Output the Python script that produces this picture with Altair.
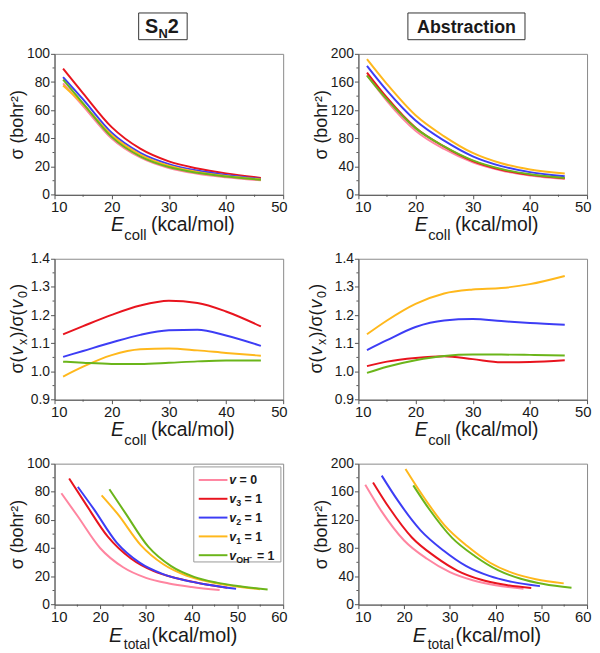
import altair as alt
import pandas as pd

# ---------------- data ----------------
SERIES = ["v = 0", "v3 = 1", "v2 = 1", "v1 = 1", "vOH = 1"]
COLORS = ["#FF85A0", "#E8141E", "#3D3DF5", "#FFB81C", "#6BB51A"]

E_COLL = [11.5, 15, 20, 25, 30, 35, 40, 46.1]          # kcal/mol
E_VIB = [0.0, 1.7, 3.6, 8.8, 10.5]                      # added to E_coll for E_total

SN2_V0 = [79, 63, 40, 26.5, 19, 15, 12.5, 10.3]
SN2_V3 = [89.5, 72, 48, 32.7, 23.7, 18.7, 15.2, 12.0]
SN2_V2 = [83.5, 67.7, 44, 29.8, 21.8, 17.2, 14.1, 11.2]
SN2_V1 = [77.5, 64.3, 42.4, 28.6, 20.6, 16.2, 13.3, 10.9]
SN2_VOH = [81.8, 64.9, 41.1, 27.3, 19.7, 15.6, 13.0, 10.7]

ABS_V0 = [170, 133, 91, 65, 46, 34.5, 27.5, 22.5]
ABS_V3 = [173.4, 137.7, 95.2, 68.4, 48, 35.6, 28.4, 23.4]
ABS_V2 = [183, 147.8, 105.4, 76.8, 54.6, 40.7, 32.2, 26.2]
ABS_V1 = [192.4, 157.1, 112.8, 83, 59.4, 44.7, 36, 30.1]
ABS_VOH = [169.2, 135.3, 94.6, 68.6, 48.8, 36.6, 29.1, 23.8]

SN2_R_V3 = [1.132, 1.161, 1.201, 1.234, 1.251, 1.243, 1.213, 1.16]
SN2_R_V2 = [1.052, 1.073, 1.103, 1.13, 1.146, 1.148, 1.128, 1.091]
SN2_R_V1 = [0.982, 1.017, 1.058, 1.079, 1.082, 1.075, 1.066, 1.056]
SN2_R_VOH = [1.035, 1.031, 1.027, 1.027, 1.031, 1.036, 1.039, 1.039]

ABS_R_V3 = [1.019, 1.035, 1.048, 1.054, 1.044, 1.033, 1.034, 1.04]
ABS_R_V2 = [1.076, 1.111, 1.158, 1.181, 1.186, 1.179, 1.172, 1.166]
ABS_R_V1 = [1.132, 1.181, 1.24, 1.277, 1.291, 1.296, 1.31, 1.339]
ABS_R_VOH = [0.995, 1.017, 1.04, 1.055, 1.06, 1.06, 1.059, 1.057]

X_COLL_TICKS = [10, 20, 30, 40, 50]
X_COLL_MINOR = [15, 25, 35, 45]
X_TOT_TICKS = [10, 20, 30, 40, 50, 60]
X_TOT_MINOR = [15, 25, 35, 45, 55]
Y_SN2_TICKS = [0, 20, 40, 60, 80, 100]
Y_SN2_MINOR = [10, 30, 50, 70, 90]
Y_ABS_TICKS = [0, 40, 80, 120, 160, 200]
Y_ABS_MINOR = [20, 60, 100, 140, 180]
Y_R_TICKS = [0.9, 1.0, 1.1, 1.2, 1.3, 1.4]
Y_R_MINOR = [0.95, 1.05, 1.15, 1.25, 1.35]

LEG_SUB = ["", "3", "2", "1", "OH\u207b"]
LEG_REST = ["= 0", "= 1", "= 1", "= 1", "= 1"]

# ---------------- styling ----------------
FONT = "Liberation Sans, Arial, sans-serif"
AX = "#555555"
TXT = "#1a1a1a"
W, H = 231, 142.4


def long_df(lists, series, shifts=None):
    rows = []
    for i, (name, vals) in enumerate(zip(series, lists)):
        sh = shifts[i] if shifts else 0.0
        for e, v in zip(E_COLL, vals):
            rows.append({"s": name, "x": round(e + sh, 3), "y": v})
    return pd.DataFrame(rows)


def one():
    return alt.Data(values=[{"a": 1}])


def txt(s, x, y, size, weight="normal", style="normal", angle=0, color=TXT, align="left"):
    kw = dict(text=s, fontSize=size, font=FONT, fontWeight=weight, fontStyle=style,
              align=align, baseline="alphabetic", color=color)
    if angle:
        kw["angle"] = angle
    return alt.Chart(one()).mark_text(**kw).encode(x=alt.value(x), y=alt.value(y))


def box(x1, x2, y1, y2, stroke="#333333", fill_op=0.0):
    return alt.Chart(one()).mark_rect(
        fill="#ffffff", fillOpacity=fill_op, stroke=stroke, strokeWidth=1).encode(
        x=alt.value(x1), x2=alt.value(x2), y=alt.value(y1), y2=alt.value(y2))


def seg(x1, x2, y1, y2, color=AX, width=1):
    return alt.Chart(one()).mark_rule(color=color, strokeWidth=width).encode(
        x=alt.value(x1), x2=alt.value(x2), y=alt.value(y1), y2=alt.value(y2))


def xtitle(sub, total=False):
    if total:
        return [txt("E", 55, H + 37.5, 20, style="italic"),
                txt(sub, 70, H + 45, 14),
                txt("(kcal/mol)", 98, H + 37.5, 20)]
    return [txt("E", 57, H + 37, 19.5, style="italic"),
            txt(sub, 70.5, H + 45.5, 15),
            txt("(kcal/mol)", 97.5, H + 37, 19.5)]


def ratio_ytitle(xb, y0):
    # rotated text built from pieces: (text, size, style, shift, advance)
    m, s = 18, 12.5
    pieces = [("\u03c3(", m, "normal", 0, 0.933 * m),
              ("v", m, "italic", 0, 0.5 * m),
              ("x", s, "normal", 4, 0.5 * s),
              (")/\u03c3(", m, "normal", 0, 1.544 * m),
              ("v", m, "italic", 0, 0.5 * m),
              ("0", s, "normal", 4, 0.556 * s),
              (")", m, "normal", 0, 0.333 * m)]
    out = []
    y = y0
    for t, sz, st, sh, adv in pieces:
        out.append(txt(t, xb + sh, y, sz, style=st, angle=270))
        y -= adv + 1.5
    return out


def minor_ticks(xdom, xmin, ydom, ymin):
    out = []
    for v in xmin:
        px = W * (v - xdom[0]) / (xdom[1] - xdom[0])
        out.append(seg(px, px, H, H + 2))
    for v in ymin:
        py = H * (1 - (v - ydom[0]) / (ydom[1] - ydom[0]))
        out.append(seg(-2, 0, py, py))
    return out


def panel(df, xdom, xmaj, xmin, ydom, ymaj, ymin, yfmt, ytitle, extras):
    xax = alt.Axis(values=xmaj, format="d", title=None, labelFlush=True,
                   labelFlushOffset=4, labelFontSize=15, labelOverlap=False)
    yax = alt.Axis(values=ymaj, format=yfmt, title=ytitle, labelFlush=False,
                   labelOverlap=False)
    xs = alt.Scale(domain=xdom, nice=False, zero=False)
    ys = alt.Scale(domain=ydom, nice=False, zero=False)
    lines = alt.Chart(df).mark_line(interpolate="monotone", strokeWidth=2).encode(
        x=alt.X("x:Q", scale=xs, axis=xax),
        y=alt.Y("y:Q", scale=ys, axis=yax),
        color=alt.Color("s:N", scale=alt.Scale(domain=SERIES, range=COLORS), legend=None),
    )
    return alt.layer(lines, *minor_ticks(xdom, xmin, ydom, ymin), *extras).properties(
        width=W, height=H)


SIG_TITLE = "\u03c3 (bohr\u00b2)"

df_sn2 = long_df([SN2_V0, SN2_V3, SN2_V2, SN2_V1, SN2_VOH], SERIES)
df_abs = long_df([ABS_V0, ABS_V3, ABS_V2, ABS_V1, ABS_VOH], SERIES)
df_sn2_r = long_df([SN2_R_V3, SN2_R_V2, SN2_R_V1, SN2_R_VOH], SERIES[1:])
df_abs_r = long_df([ABS_R_V3, ABS_R_V2, ABS_R_V1, ABS_R_VOH], SERIES[1:])
df_sn2_t = long_df([SN2_V0, SN2_V3, SN2_V2, SN2_V1, SN2_VOH], SERIES, E_VIB)
df_abs_t = long_df([ABS_V0, ABS_V3, ABS_V2, ABS_V1, ABS_VOH], SERIES, E_VIB)

# column headers (boxed)
sn2_head = [box(85, 134, -41.3, -14.3),
            txt("S", 91.5, -21, 20, weight="bold"),
            txt("N", 105, -16.5, 13, weight="bold"),
            txt("2", 114.5, -21, 20, weight="bold")]
abs_head = [box(50, 168.3, -41.3, -14.3),
            txt("Abstraction", 109.2, -21, 18, weight="bold", align="center")]

# legend (bottom-left panel)
legend = [box(140.7, 228.7, 3.3, 99.3, stroke="#999999", fill_op=1.0)]
for i, (col, sub, rest) in enumerate(zip(COLORS, LEG_SUB, LEG_REST)):
    ly = 16.5 + 19 * i
    legend.append(seg(145.7, 174.7, ly, ly, color=col, width=2))
    legend.append(txt("v", 176.5, ly + 4.5, 12.5, weight="bold", style="italic"))
    xs_ = 183.5
    if sub:
        legend.append(txt(sub, xs_, ly + 7.5, 9, weight="bold"))
        xs_ += 5 if len(sub) == 1 else 17.5
    legend.append(txt(rest, xs_ + 3.5, ly + 4.5, 12.5, weight="bold"))

p11 = panel(df_sn2, [10, 50], X_COLL_TICKS, X_COLL_MINOR, [0, 100], Y_SN2_TICKS, Y_SN2_MINOR,
            "d", SIG_TITLE, xtitle("coll") + sn2_head)
p12 = panel(df_abs, [10, 50], X_COLL_TICKS, X_COLL_MINOR, [0, 200], Y_ABS_TICKS, Y_ABS_MINOR,
            "d", SIG_TITLE, xtitle("coll") + abs_head)
p21 = panel(df_sn2_r, [10, 50], X_COLL_TICKS, X_COLL_MINOR, [0.9, 1.4], Y_R_TICKS, Y_R_MINOR,
            ".1f", None, xtitle("coll") + ratio_ytitle(-32, 116))
p22 = panel(df_abs_r, [10, 50], X_COLL_TICKS, X_COLL_MINOR, [0.9, 1.4], Y_R_TICKS, Y_R_MINOR,
            ".1f", None, xtitle("coll") + ratio_ytitle(-37, 116))
p31 = panel(df_sn2_t, [10, 60], X_TOT_TICKS, X_TOT_MINOR, [0, 100], Y_SN2_TICKS, Y_SN2_MINOR,
            "d", SIG_TITLE, xtitle("total", total=True) + legend)
p32 = panel(df_abs_t, [10, 60], X_TOT_TICKS, X_TOT_MINOR, [0, 200], Y_ABS_TICKS, Y_ABS_MINOR,
            "d", SIG_TITLE, xtitle("total", total=True))

chart = alt.concat(
    p11, p12, p21, p22, p31, p32, columns=2,
    spacing={"row": 64, "column": 76}, bounds="flush",
).properties(
    padding=0
).configure_view(
    stroke="#8a8a8a", strokeWidth=1
).configure_axis(
    labelFont=FONT, labelFontSize=14, labelColor=TXT, labelPadding=1,
    labelOverlap=False,
    titleFont=FONT, titleFontSize=18, titleFontWeight="normal", titleColor=TXT,
    titlePadding=0, domainColor=AX, tickColor=AX, tickSize=4, grid=False,
)

chart.save("out.html", embed_options={"renderer": "svg", "actions": False})
